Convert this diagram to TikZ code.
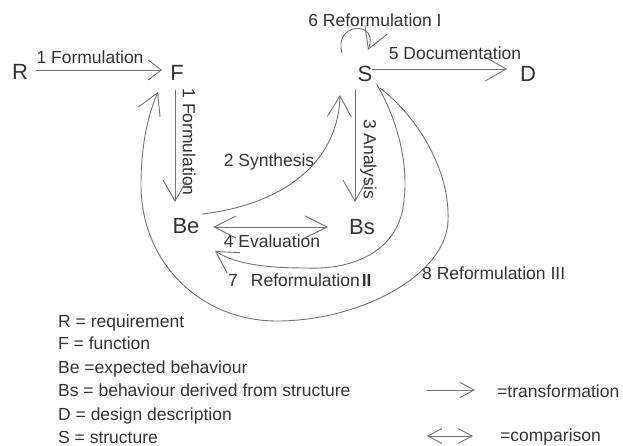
\documentclass[tikz,border=0pt]{standalone}
\usepackage{fontspec}
\setmainfont{Liberation Sans}
\usetikzlibrary{arrows.meta}
\begin{document}
\begin{tikzpicture}[x=1pt,y=-1pt,
  big/.style={font=\fontsize{22}{24}\selectfont, text=black!80, inner sep=0pt, text height=15.8pt, text depth=0pt},
  lbl/.style={font=\fontsize{17.5}{20}\selectfont, text=black!80, inner sep=0pt, text height=12.5pt, text depth=0pt},
  leg/.style={lbl, anchor=west},
  conn/.style={draw=black!55, line width=0.9pt, line cap=round},
  arrbig/.style={conn, -{Straight Barb[length=21pt,width=24pt]}},
  arrsmall/.style={conn, -{Straight Barb[length=13pt,width=20pt]}},
  arrboth/.style={conn, {Straight Barb[length=22pt,width=22pt]}-{Straight Barb[length=22pt,width=22pt]}},
  arrleg/.style={conn, -{Straight Barb[length=14pt,width=15pt]}},
  arrlegboth/.style={conn, {Straight Barb[length=14pt,width=15pt]}-{Straight Barb[length=14pt,width=15pt]}}
]
\useasboundingbox (0,0) rectangle (623,446);

% main nodes
\node[big] (R)  at (20,72)   {R};
\node[big] (F)  at (177,73)  {F};
\node[big] (S)  at (365,74)  {S};
\node[big] (D)  at (528,74)  {D};
\node[big] (Be) at (186,226) {Be};
\node[big] (Bs) at (362,227) {Bs};

% labels
\node[lbl] (l1) at (90,57) {1 Formulation};
\node[lbl, rotate=-90] (l1v) at (189,142) {1 Formulation};
\node[lbl] (l2) at (269,160) {2 Synthesis};
\node[lbl, rotate=-90] (l3) at (370,159) {3 Analysis};
\node[lbl] (l4) at (272,241) {4 Evaluation};
\node[lbl] (l5) at (455,53) {5 Documentation};
\node[lbl] (l6) at (375,20) {6 Reformulation I};
\node[lbl, anchor=west] (l7) at (228,280) {7\hspace{13pt}Reformulation\hspace{2pt}\textbf{II}};
\node[lbl, anchor=west] (l8) at (422,273) {8 Reformulation III};

% straight connectors
\draw[arrsmall] ([shift={(16,-2)}]R.center) -- ([shift={(-15,-3)}]F.center);
\draw[arrbig] ([shift={(-2,17)}]F.center) -- ([shift={(-11,-24)}]Be.center);
\draw[arrbig] ([shift={(-10,16)}]S.center) -- ([shift={(-7,-25)}]Bs.center);
\draw[arrbig] ([shift={(7,-5)}]S.center) -- ([shift={(-21,-5)}]D.center);
\draw[arrboth] ([shift={(27,1)}]Be.center) -- ([shift={(-34,0)}]Bs.center);

% 2 Synthesis
\draw[arrbig] ([shift={(16,-12)}]Be.center) .. controls (280,205) and (338,165) .. ([shift={(-25,21)}]S.center);

% 6 Reformulation I (self loop)
\draw[arrbig] ([shift={(-23,-21)}]S.center) .. controls (333,22) and (380,20) .. ([shift={(3,-24)}]S.center);

% 7 Reformulation II
\draw[arrbig] ([shift={(12,11)}]S.center) .. controls (395,115) and (409,160) .. (404,200)
  .. controls (400,250) and (355,270) .. (307,268)
  .. controls (270,268) and (237,265) .. ([shift={(29,25)}]Be.center);

% 8 Reformulation III
\draw[arrbig] ([shift={(15,14)}]S.center) .. controls (412,112) and (450,165) .. (448,220)
  .. controls (447,275) and (360,321) .. (277,321)
  .. controls (200,321) and (141,262) .. (141,185)
  .. controls (141,140) and (150,110) .. ([shift={(-19,19)}]F.center);

% legend
\node[leg] (g1) at (58,321) {R = requirement};
\node[leg] (g2) at (58,343) {F = function};
\node[leg] (g3) at (58,367) {Be =expected behaviour};
\node[leg] (g4) at (58,390) {Bs = behaviour derived from structure};
\node[leg] (g5) at (58,414) {D = design description};
\node[leg] (g6) at (58,437) {S = structure};

\node[leg] (gt) at (497,391) {=transformation};
\node[leg] (gc) at (500,435) {=comparison};
\coordinate (ta) at (427,390);
\coordinate (tb) at (475,390);
\coordinate (ca) at (427,436);
\coordinate (cb) at (473,436);
\draw[arrleg] (ta) -- (tb);
\draw[arrlegboth] (ca) -- (cb);
\end{tikzpicture}
\end{document}
